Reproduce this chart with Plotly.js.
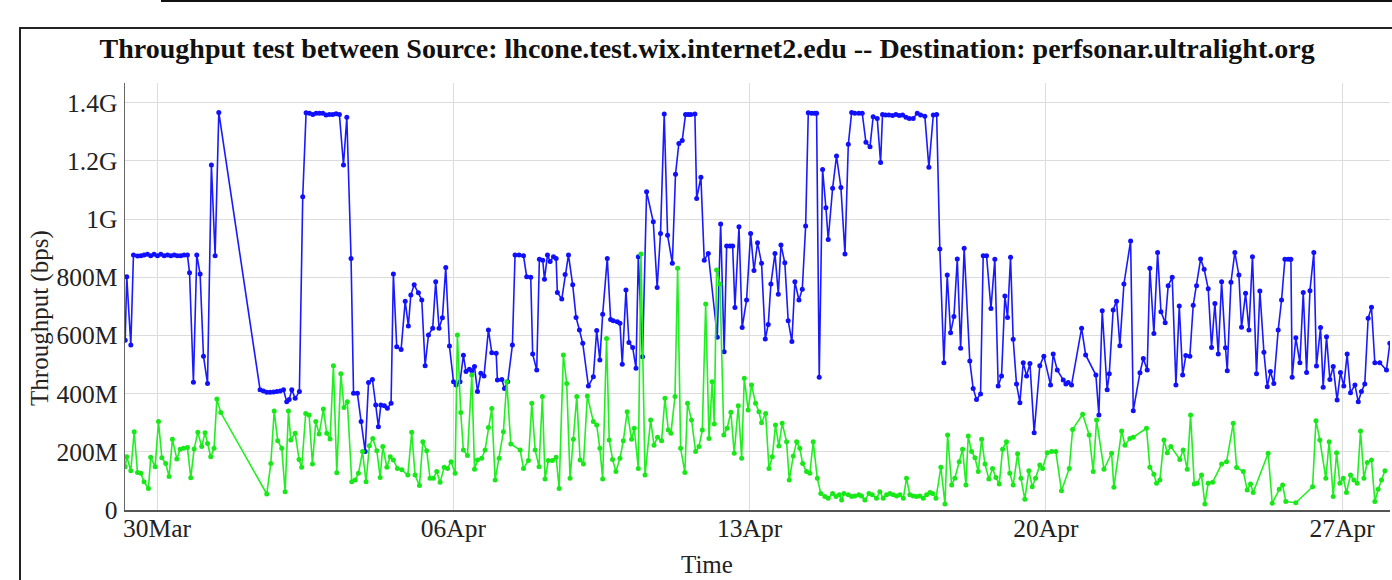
<!DOCTYPE html>
<html>
<head>
<meta charset="utf-8">
<script src="https://cdn.plot.ly/plotly-3.0.1.min.js"></script>
<style>
  html, body { margin: 0; padding: 0; background: #fff; }
  #wrap { position: relative; width: 1392px; height: 580px; overflow: hidden; }
  #frameTop { position: absolute; left: 161px; top: 0px; width: 1231px; height: 0; border-top: 2px solid #111; }
  #frame { position: absolute; left: 19px; top: 27px; width: 1380px; height: 600px; border-left: 2px solid #222; border-top: 2px solid #222; }
  #chart { position: absolute; left: 0; top: 0; width: 1392px; height: 580px; }
</style>
</head>
<body>
<div id="wrap">
  <div id="frameTop"></div>
  <div id="frame"></div>
  <div id="chart"></div>
</div>
<script>
// Time of each test, in hours after 30 Mar 00:00
const blueHours = [
-18.1,-17.2,-14.9,-13.4,-11.1,-9.2,-7.4,-5.5,-3.6,-1.7,0.2,2.1,4.0,5.9,7.8,9.7,11.5,13.4,15.3,17.2,
18.4,20.6,22.5,24.4,26.3,28.6,30.8,32.9,35.0,
58.4,60.3,62.2,64.1,66.0,67.9,69.8,71.7,73.5,74.9,76.4,78.3,80.7,82.6,84.5,86.4,88.3,90.2,92.1,94.0,95.8,97.7,99.6,101.5,103.4,105.7,107.6,
110.0,111.4,113.6,115.7,118.0,119.9,122.1,124.0,125.5,126.9,128.9,130.6,132.7,134.0,135.9,138.4,140.7,142.5,143.9,145.8,
148.2,150.1,152.0,153.9,156.3,158.0,159.9,161.8,163.7,165.8,168.1,169.6,171.8,173.7,175.2,177.1,178.5,180.0,181.7,183.6,
185.4,187.9,189.8,192.3,193.0,195.5,197.0,198.9,201.5,203.0,205.3,207.8,209.6,211.9,213.0,215.3,216.8,218.7,219.7,221.4,
222.9,224.8,226.3,227.0,229.5,231.4,233.3,235.7,237.6,239.5,241.4,244.6,
247.4,249.3,251.1,252.7,255.3,257.2,258.7,261.0,262.5,263.8,265.9,267.6,269.7,271.6,272.9,275.3,277.6,281.4,283.6,285.5,
287.6,289.5,292.2,294.0,295.9,297.8,299.7,301.2,302.7,305.0,306.0,308.4,310.3,312.6,317.7,319.6,321.6,323.0,324.9,326.4,
327.7,330.0,331.8,334.3,336.6,338.5,340.5,342.8,344.9,346.6,348.1,350.4,352.3,353.8,356.0,357.9,360.0,361.7,364.0,365.9,
367.8,369.3,371.2,373.0,374.0,375.5,377.4,379.3,380.6,
383.1,385.3,387.8,390.1,392.0,393.9,395.7,398.0,399.9,402.0,404.3,406.1,408.4,410.3,411.4,413.1,415.0,417.1,419.0,420.9,
422.8,424.7,426.6,428.8,431.1,433.0,435.4,437.7,440.2,442.1,443.9,446.2,448.1,450.0,451.9,453.8,455.7,457.7,460.9,462.8,
464.7,467.0,468.5,470.4,472.9,475.1,477.0,478.9,480.8,482.3,484.0,485.5,487.4,489.3,491.2,493.1,495.0,497.4,500.6,502.9,
506.7,508.2,510.5,
513.9,515.4,516.7,518.6,524.3,526.6,532.4,534.1,536.0,538.8,540.0,542.2,544.1,546.0,548.3,552.1,553.6,557.4,559.3,561.5,
563.0,565.3,567.4,569.3,571.7,573.4,575.7,577.8,579.7,581.6,583.4,585.7,587.6,589.5,591.8,593.8,596.1,598.0,599.9,601.8,
603.7,605.9,606.9,609.0,611.2,613.5,615.0,617.3,619.2,621.2,623.5,625.4,627.7,629.6,631.4,633.3,635.8,637.7,639.6,641.5,
643.0,643.7,645.8,648.1,650.0,651.9,653.8,656.0,657.5,659.8,661.3,663.2,665.1,667.0,669.2,671.1,673.0,674.9,676.8,679.3,
681.2,683.0,684.9,686.8,688.7,690.6,693.4,697.2,699.1
];
// Throughput in Mbps
const blueMbps = [
584,802,567,877,873,874,877,879,874,879,874,879,874,877,874,877,874,874,877,877,
816,439,877,811,529,435,1186,874,1367,
413,409,405,405,406,407,409,413,372,380,413,384,407,1077,1366,1364,1360,1364,1364,1364,1358,1360,1360,1362,1360,1186,1350,
865,401,401,304,201,438,449,361,286,361,358,350,367,811,561,552,718,633,739,774,
747,722,496,602,625,785,625,661,834,564,441,430,441,532,476,484,479,493,407,470,
461,619,541,539,447,449,418,441,567,877,877,874,802,800,536,481,862,859,793,877,
854,871,865,748,725,810,877,774,662,619,573,426,
458,617,516,673,865,655,651,647,642,501,756,576,559,487,871,527,1094,991,765,951,
1361,945,848,1154,1260,1270,1360,1360,1360,1361,1071,1144,859,882,594,983,544,908,908,908,
696,974,627,722,951,823,919,848,588,638,777,882,742,911,850,651,579,785,722,759,
976,1366,1364,1364,1364,456,1171,1039,930,
1106,1217,1109,880,1257,1367,1364,1364,1364,1264,1249,1352,1346,1195,1360,1358,1358,1356,1360,1356,
1358,1350,1346,1346,1364,1358,1354,1178,1358,1360,897,506,808,609,665,863,556,900,512,418,
380,399,874,874,693,862,426,461,736,662,869,587,433,369,506,461,504,266,496,529,
430,536,481,
447,433,438,430,625,533,464,327,685,413,468,688,718,565,777,925,341,472,521,481,
831,607,885,682,644,771,800,430,701,464,531,529,704,771,863,828,761,559,710,536,
785,558,479,783,885,808,628,745,619,871,468,753,542,424,476,435,619,722,862,862,
862,456,592,506,748,473,754,885,495,627,422,596,449,493,378,473,426,536,403,430,
372,407,433,659,697,506,506,481,573
];

const greenHours = [
-18.1,-17.2,-14.9,-13.0,-11.1,-9.2,-7.4,-4.9,-3.6,-1.1,0.8,2.7,4.9,6.8,8.7,11.2,13.1,15.0,17.2,19.1,
21.0,23.1,25.3,27.2,28.6,30.4,32.3,33.9,36.1,
62.2,64.5,66.4,68.4,70.7,72.6,74.5,75.8,78.3,80.5,82.0,84.3,86.2,88.1,90.0,91.9,94.3,96.2,98.1,100.0,
101.9,104.2,106.0,107.9,
110.4,112.3,114.2,116.5,118.5,120.4,122.3,124.6,126.5,128.0,130.3,132.2,134.0,136.3,138.8,142.2,144.4,146.3,148.8,150.7,
152.9,154.8,156.7,158.6,160.5,162.8,164.7,166.7,169.0,170.3,172.2,173.7,176.0,178.5,180.0,181.7,184.1,186.0,187.9,189.8,
191.7,194.0,196.4,198.3,200.6,205.9,207.8,210.6,212.5,214.4,216.6,218.5,220.0,221.9,224.2,226.3,228.0,230.4,232.3,234.2,
236.1,238.0,239.9,241.8,244.0,
247.4,249.3,251.1,252.7,254.9,256.4,258.3,260.2,262.5,264.4,266.6,269.1,270.6,272.9,274.4,276.7,279.9,281.8,283.8,286.1,
288.0,289.9,291.4,293.7,295.2,296.9,299.3,300.8,303.1,305.4,307.3,309.2,311.1,313.0,314.8,316.0,317.3,319.2,321.4,323.3,
325.4,327.3,329.6,331.5,333.0,335.2,337.1,339.4,341.3,342.8,345.1,347.0,348.9,350.7,352.6,354.5,357.0,358.5,360.8,362.7,
364.5,366.1,368.3,370.2,372.1,374.4,376.4,378.7,380.6,
383.1,385.0,386.9,388.2,389.5,392.0,393.9,395.7,398.0,399.5,401.4,403.7,405.6,408.0,409.9,411.8,413.7,415.6,417.5,419.4,
421.3,423.2,425.0,426.9,428.8,430.7,432.6,434.5,436.4,438.3,439.8,441.7,444.5,446.8,448.3,450.6,452.4,454.9,456.8,458.7,
460.0,461.9,463.8,465.7,467.6,469.5,471.7,473.8,475.7,477.6,479.5,481.7,483.6,485.5,488.0,489.9,492.1,494.4,496.3,498.2,
500.6,502.2,504.8,507.3,509.7,512.9,
517.3,519.2,524.9,528.6,530.9,532.8,537.0,541.3,542.6,547.0,548.9,551.7,553.6,561.1,563.0,565.3,566.8,568.7,571.0,
572.9,574.9,580.0,581.9,584.2,586.1,588.2,589.9,592.3,594.2,596.1,598.6,603.7,606.5,610.3,612.2,616.0,618.2,620.1,621.6,
630.1,632.4,636.4,638.3,640.1,645.8,655.3,657.2,659.4,662.8,664.7,667.0,668.9,670.8,672.7,674.5,676.8,678.7,680.6,682.5,
684.4,686.3,688.7,690.6,692.5,694.4,696.3
];
const greenMbps = [
149,183,135,269,129,126,97,74,181,149,304,180,160,115,243,175,209,212,215,111,
210,267,218,266,229,183,212,382,335,
55,160,340,238,212,63,340,241,264,174,147,332,327,158,304,261,347,264,244,496,
128,468,352,372,
97,103,126,201,97,221,246,204,112,218,147,183,172,143,138,120,267,120,84,235,
204,109,109,132,95,147,143,166,126,602,335,206,187,464,140,172,178,206,284,349,
103,178,269,441,227,206,143,170,367,206,149,390,107,170,170,181,74,533,435,109,
243,390,172,158,392,
304,292,212,107,590,241,174,132,178,238,338,243,281,143,880,120,309,223,250,238,
384,275,264,390,831,212,129,367,309,201,218,275,708,246,441,296,825,777,258,281,
336,195,358,178,453,344,430,367,338,300,332,143,183,292,220,298,235,103,186,235,
212,160,132,126,235,109,57,46,40,
57,46,52,34,57,52,46,48,52,48,34,57,52,40,63,40,52,57,52,48,
52,40,109,52,48,46,48,40,52,60,57,40,147,21,258,86,109,166,209,86,
254,201,180,132,243,158,107,143,112,89,209,235,126,86,193,109,37,135,80,109,
155,143,197,201,201,66,
143,277,329,258,132,309,140,195,78,272,223,246,250,281,147,123,92,103,241,
197,218,174,206,140,327,89,92,120,21,92,95,158,166,298,146,132,69,89,60,
195,23,71,86,29,25,80,307,241,109,235,46,197,92,109,60,120,103,92,272,
109,163,172,29,71,103,135
];

const startDate = Date.UTC(2015, 2, 30, 0, 0, 0);
const xRangeHours = [-18.2, 699.2];
const yMaxMbps = 1468;

function toDate(h) {
  return new Date(startDate + h * 3600000).toISOString().replace('T', ' ').slice(0, 19);
}

const serif = 'Liberation Serif, Times New Roman, serif';

const traces = [
  {
    x: blueHours.map(toDate),
    y: blueMbps.map(v => v * 1e6),
    type: 'scatter',
    mode: 'lines+markers',
    line: { color: '#1a1aff', width: 1.6 },
    marker: { color: '#1010ff', size: 5 },
    hoverinfo: 'x+y',
    showlegend: false
  },
  {
    x: greenHours.map(toDate),
    y: greenMbps.map(v => v * 1e6),
    type: 'scatter',
    mode: 'lines+markers',
    line: { color: '#22ee22', width: 1.6 },
    marker: { color: '#18e818', size: 5 },
    hoverinfo: 'x+y',
    showlegend: false
  }
];

const layout = {
  width: 1392,
  height: 580,
  margin: { l: 125, r: 2, t: 83, b: 70 },
  paper_bgcolor: 'rgba(0,0,0,0)',
  plot_bgcolor: 'rgba(0,0,0,0)',
  showlegend: false,
  title: {
    text: '<b>Throughput test between Source: lhcone.test.wix.internet2.edu -- Destination: perfsonar.ultralight.org</b>',
    font: { family: serif, size: 28, color: '#111' },
    xref: 'container', yref: 'container',
    x: 0.508, xanchor: 'center',
    y: 0.917, yanchor: 'middle'
  },
  xaxis: {
    type: 'date',
    range: [toDate(xRangeHours[0]), toDate(xRangeHours[1])],
    tick0: '2015-03-30',
    dtick: 7 * 24 * 3600000,
    tickformat: '%d%b',
    showgrid: true,
    gridcolor: '#dcdcdc',
    gridwidth: 1,
    showline: true,
    linecolor: '#555',
    linewidth: 2,
    zeroline: false,
    ticks: '',
    ticklabelstandoff: -6,
    tickfont: { family: serif, size: 25.5, color: '#222' }
  },
  yaxis: {
    range: [0, yMaxMbps * 1e6],
    dtick: 200e6,
    tickformat: '~s',
    showgrid: true,
    gridcolor: '#dcdcdc',
    gridwidth: 1,
    showline: true,
    linecolor: '#666',
    linewidth: 1.5,
    zeroline: false,
    ticks: '',
    ticklabelstandoff: 1,
    tickfont: { family: serif, size: 25.5, color: '#222' }
  },
  annotations: [
    {
      text: 'Time', showarrow: false,
      xref: 'paper', yref: 'paper',
      x: 0.46, y: -0.128, xanchor: 'center', yanchor: 'middle',
      font: { family: serif, size: 25, color: '#222' }
    },
    {
      text: 'Throughput (bps)', showarrow: false, textangle: -90,
      xref: 'paper', yref: 'paper',
      x: -0.0672, y: 0.4497, xanchor: 'center', yanchor: 'middle',
      font: { family: serif, size: 25, color: '#222' }
    }
  ]
};

Plotly.newPlot('chart', traces, layout, { displayModeBar: false, staticPlot: true });
</script>
</body>
</html>
